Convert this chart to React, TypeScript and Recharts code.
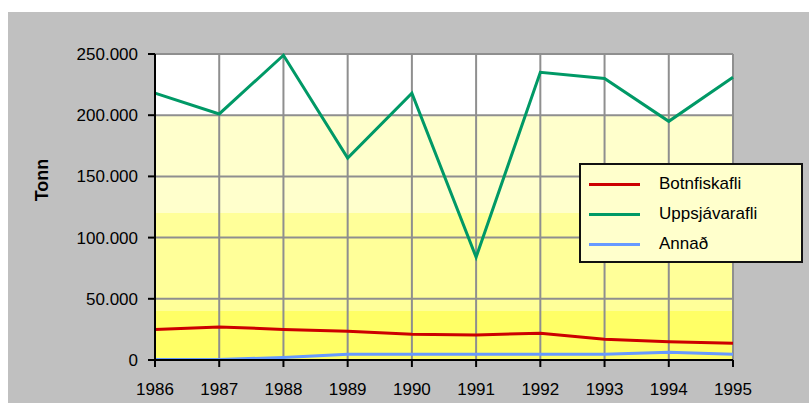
import React from 'react';
import { LineChart, Line, XAxis, YAxis, CartesianGrid } from 'recharts';

const years = [1986, 1987, 1988, 1989, 1990, 1991, 1992, 1993, 1994, 1995];
const botnfiskafli = [25000, 27000, 25000, 23500, 21000, 20500, 21800, 17000, 15000, 13600];
const uppsjavarafli = [218000, 201000, 249000, 165000, 218000, 84000, 235000, 230000, 195000, 231000];
const annad = [500, 500, 2000, 4600, 4600, 4600, 4600, 4600, 6300, 4600];
const yTicks = [0, 50000, 100000, 150000, 200000, 250000];
const yMax = 250000;

// background bands: top edge of each band (from the top) and its colour
const bandEdges = [250000, 200000, 120000, 40000];
const bandColors = ['#ffffff', '#ffffcc', '#ffff99', '#ffff66'];

const series = [
  { key: 'Botnfiskafli', color: '#cc0000' },
  { key: 'Uppsjávarafli', color: '#009966' },
  { key: 'Annað', color: '#6699ff' },
];

const data = years.map((y, i) => ({
  year: y,
  Botnfiskafli: botnfiskafli[i],
  'Uppsjávarafli': uppsjavarafli[i],
  'Annað': annad[i],
}));

const font = '"Liberation Sans", Arial, sans-serif';
const fmt = (v: number) => (v === 0 ? '0' : v.toString().replace(/\B(?=(\d{3})+(?!\d))/g, '.'));

const bandPoints = (p: any) => {
  const sc = p?.yAxis?.scale;
  if (typeof sc === 'function') return bandEdges.map((v) => sc(v));
  const off = p.offset;
  return bandEdges.map((v) => off.top + off.height * (1 - v / yMax));
};

const LegendBox = () => (
  <div
    style={{
      position: 'absolute',
      left: 571,
      top: 151,
      background: '#ffffcc',
      border: '2px solid #111',
      width: 220,
      height: 92,
      paddingTop: 4,
      fontFamily: font,
      fontSize: 17,
      color: '#000',
    }}
  >
    {series.map((s) => (
      <div key={s.key} style={{ display: 'flex', alignItems: 'center', height: 30 }}>
        <div style={{ width: 51, height: 3, background: s.color, marginLeft: 8 }} />
        <span style={{ marginLeft: 19 }}>{s.key}</span>
      </div>
    ))}
  </div>
);

const TonnLabel = (props: any) => {
  const vb = props.viewBox || { x: 0, y: 0, height: 0 };
  const cy = vb.y + vb.height / 2 - 27;
  return (
    <text
      x={34}
      y={cy}
      transform={`rotate(-90, 34, ${cy})`}
      textAnchor="middle"
      dominantBaseline="central"
      fontFamily={font}
      fontSize={18}
      fontWeight="bold"
      fill="#000"
    >
      Tonn
    </text>
  );
};

export default function App() {
  return (
    <div style={{ position: 'absolute', left: 8, top: 12, width: 801, height: 391, background: '#c0c0c0' }}>
      <LineChart width={801} height={391} data={data} margin={{ top: 42, right: 76, bottom: 13, left: 0 }}>
        <CartesianGrid
          vertical={false}
          stroke="none"
          horizontalFill={bandColors}
          fillOpacity={1}
          horizontalCoordinatesGenerator={bandPoints}
        />
        <CartesianGrid stroke="#8f8f8f" strokeWidth={2} />
        <XAxis
          dataKey="year"
          type="number"
          domain={[1986, 1995]}
          ticks={years}
          interval={0}
          height={30}
          stroke="#000"
          strokeWidth={2}
          tickSize={7}
          tickMargin={16}
          tick={{ fill: '#000', fontFamily: font, fontSize: 17 }}
        />
        <YAxis
          domain={[0, yMax]}
          ticks={yTicks}
          width={147}
          stroke="#000"
          strokeWidth={2}
          tickSize={7}
          tickMargin={10}
          tickFormatter={fmt}
          tick={{ fill: '#000', fontFamily: font, fontSize: 17 }}
          label={<TonnLabel />}
        />
        {series.map((s) => (
          <Line
            key={s.key}
            dataKey={s.key}
            stroke={s.color}
            strokeWidth={3}
            dot={false}
            activeDot={false}
            isAnimationActive={false}
          />
        ))}
      </LineChart>
      <LegendBox />
    </div>
  );
}
